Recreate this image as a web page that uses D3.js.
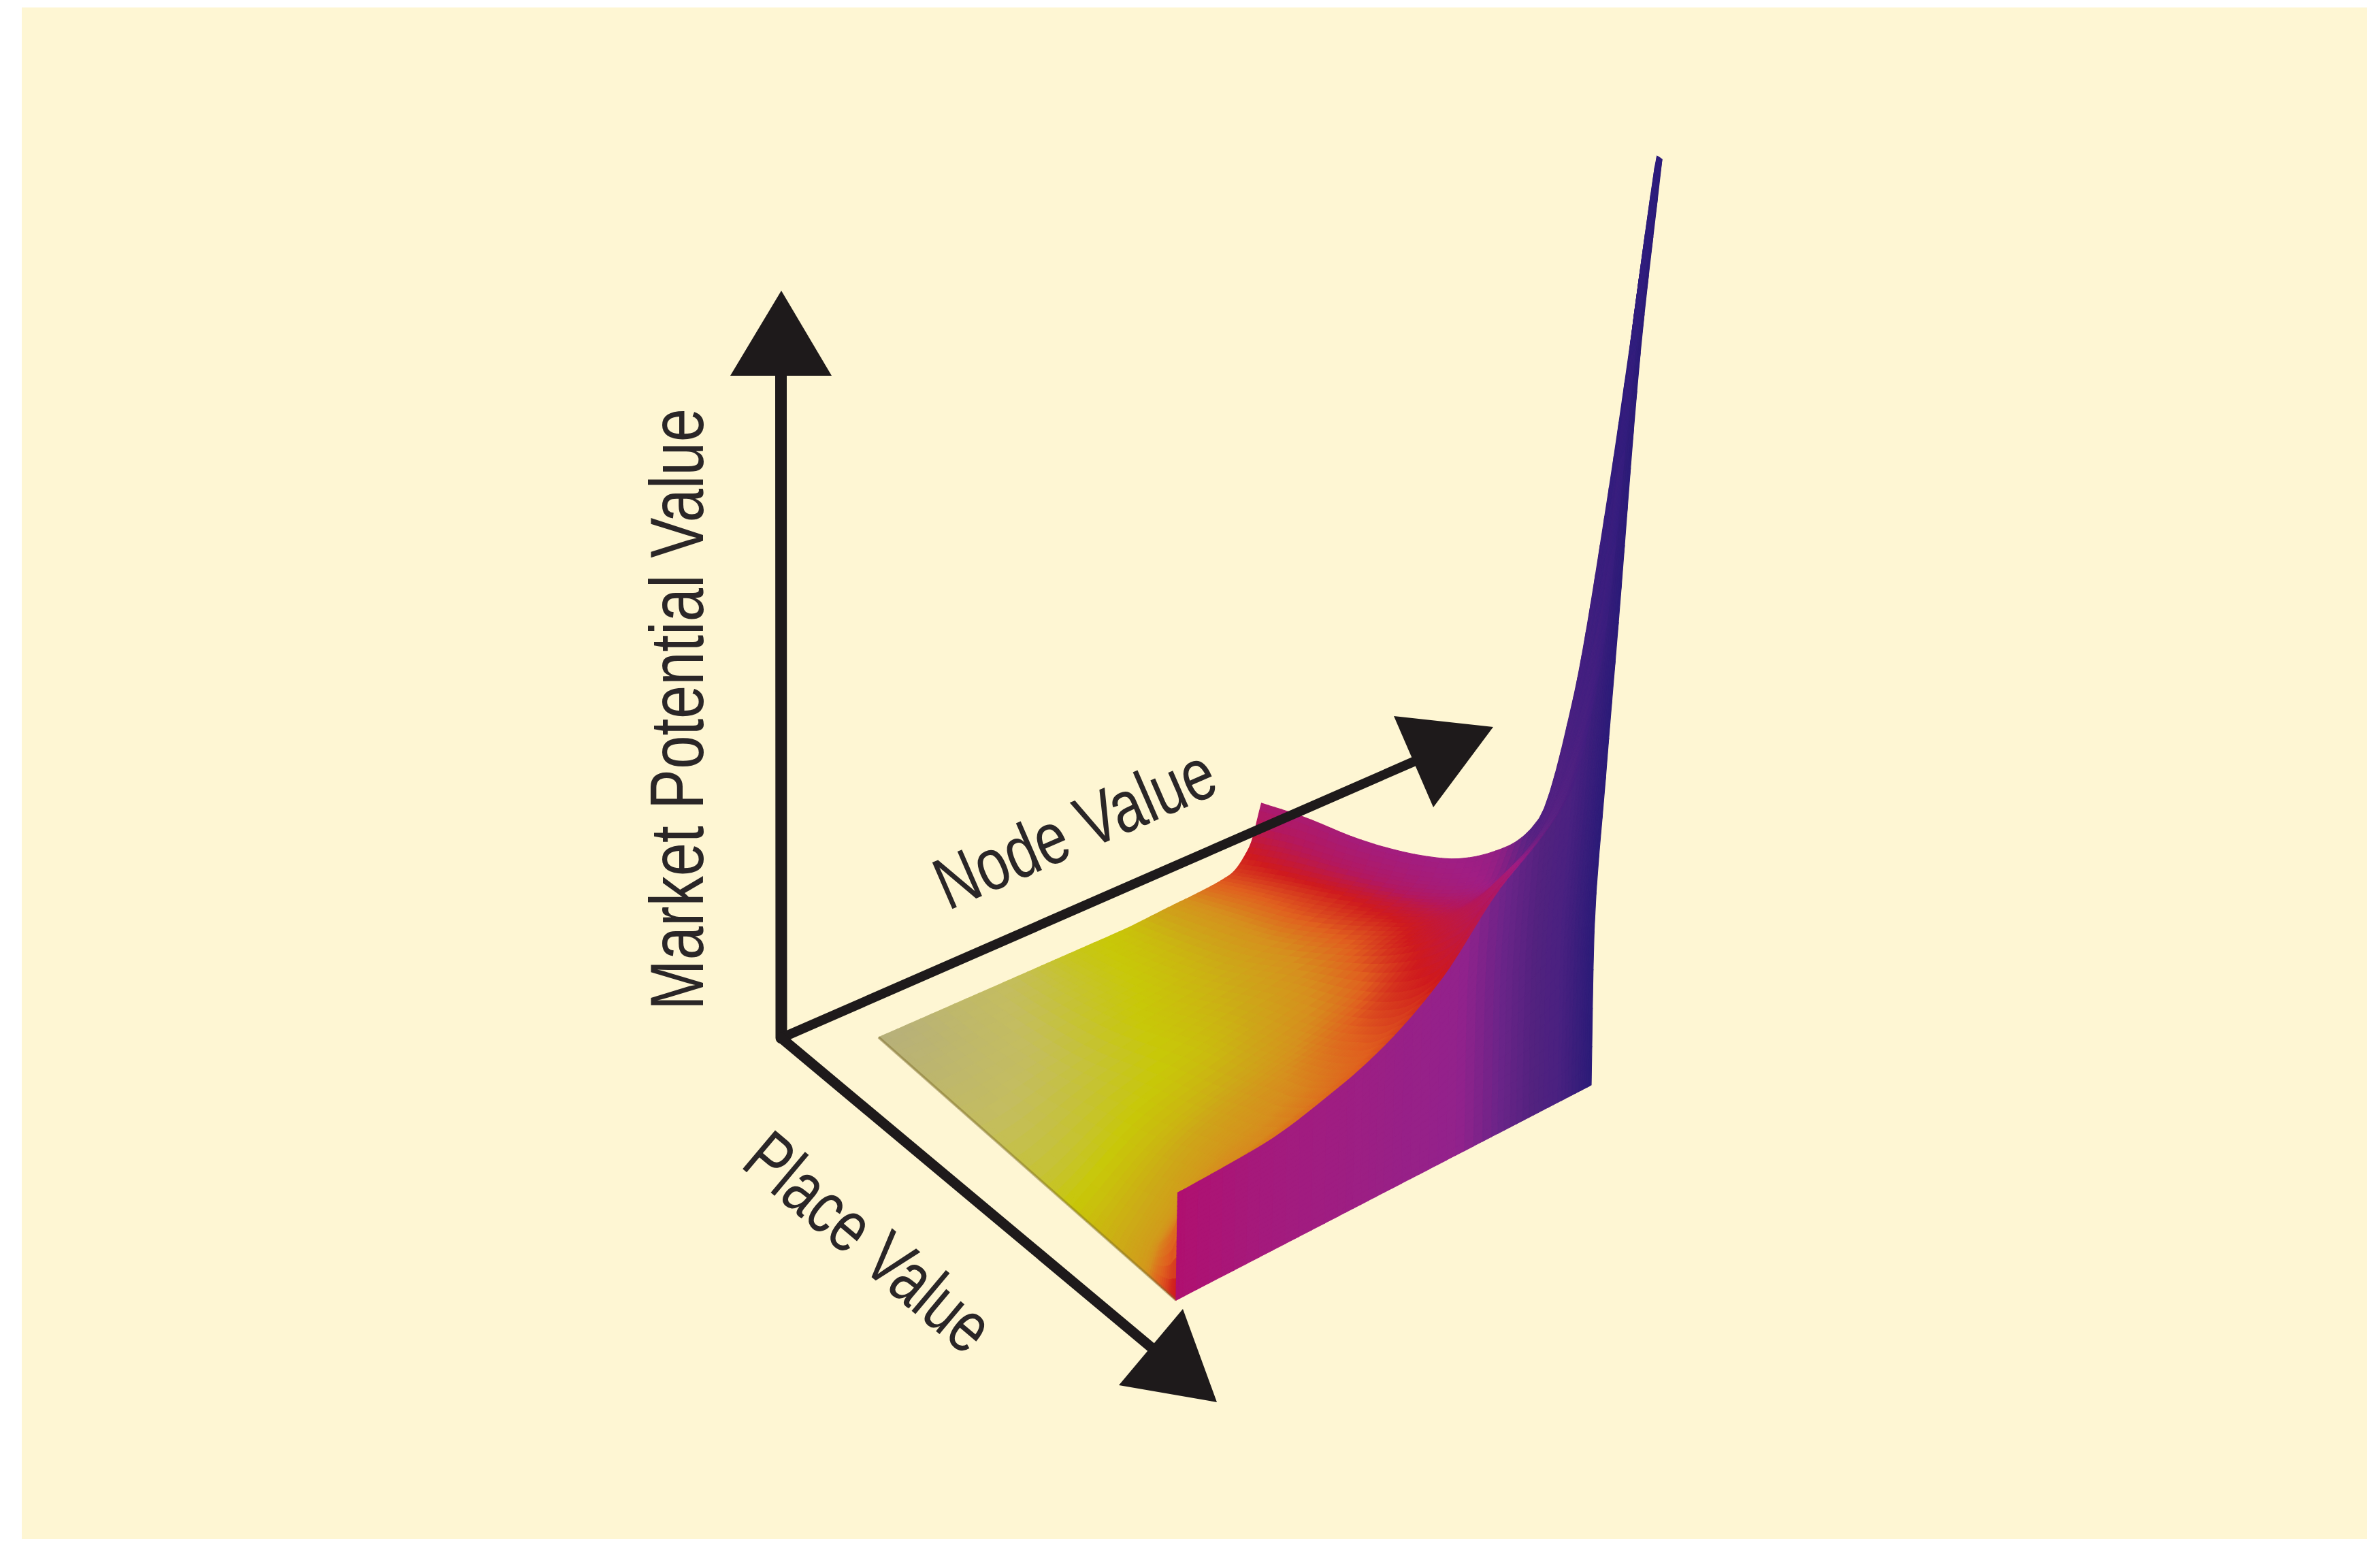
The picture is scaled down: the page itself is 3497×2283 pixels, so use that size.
<!DOCTYPE html>
<html>
<head>
<meta charset="utf-8">
<style>
  html, body { margin: 0; background: #fff; }
  svg { display: block; }
  text { font-family: "Liberation Sans Narrow", "Liberation Sans", sans-serif; fill: #2a2627; }
</style>
<script src="https://cdn.jsdelivr.net/npm/d3@7"></script>
</head>
<body>
<div id="chart"></div>
<script>
// Axis titles
const axisLabels = ['Market Potential Value', 'Node Value', 'Place Value'];

// Grid of the surface, 0..1 along each floor axis
const nodeLevels = [0, .02, .2, .39, .5, .63, .76, .85, .92, .97, 1];
const placeLevels = [0, .12, .3, .54, .7, .82, .89, .93, .97, .985, 1];

// Market potential (tip = 100), one row per place level
const heights = [
  [0, 0, 0, 0, 0, 0, .3, .5, .9, 3, 7.2],
  [0, 0, .3, .8, 1, 1.3, 1.8, 2.3, 3, 5, 8.6],
  [0, 0, 1.2, 2.5, 3, 3.6, 4.2, 5, 6, 7.5, 10.2],
  [0, .3, 4, 6, 7, 8, 9, 10, 10.5, 11.5, 13.8],
  [0, .8, 6, 8, 9, 10.5, 13, 14, 14.5, 15.5, 18.3],
  [0, 1.5, 8, 10, 11, 13, 17, 19, 20, 21, 24.6],
  [0, 2.5, 9, 11, 12.5, 15, 20, 23, 25, 28, 39.5],
  [0, 4, 9.8, 12, 13.5, 16.5, 22, 25, 28, 35, 56.7],
  [0, 7, 11, 13, 15, 18.5, 25, 28, 31, 42, 80],
  [0, 9.5, 11.5, 13.6, 15.6, 19.3, 26, 29, 32.5, 45, 100],
  [0, 11.6, 12, 14, 16, 20, 26.8, 30, 34, 48, 100]
];

// Colour band at each grid point (index into surfaceColors)
const bands = [
  [0, 0, .6, 1.2, 1.75, 2.1, 3.4, 4.6, 5.4, 6.2, 7.5],
  [.35, .35, .8, 1.45, 1.85, 2.4, 3.6, 4.7, 5.6, 6.6, 7.5],
  [.9, .9, 1.15, 1.85, 2.2, 2.85, 4, 5.1, 5.9, 7, 7.8],
  [1.5, 1.5, 1.8, 2.3, 2.9, 3.8, 4.9, 5.8, 6.6, 7.6, 8],
  [2.3, 2.3, 2.5, 3.1, 3.8, 4.6, 5.8, 6.4, 7.2, 8, 8.2],
  [3, 3, 3.3, 4, 4.6, 5.5, 6.3, 7, 8.2, 8.9, 9.3],
  [3.6, 3.5, 3.7, 4.3, 4.9, 5.7, 6.6, 7.4, 8.8, 9.2, 9.5],
  [4.8, 4.3, 4, 4.5, 5, 5.8, 6.8, 7.8, 9, 9.4, 9.7],
  [5.6, 4.6, 4.1, 4.7, 5.1, 5.9, 7, 8.2, 9.2, 9.5, 10],
  [6, 4.2, 4.3, 4.8, 5.2, 6, 7.2, 8.6, 9.3, 9.6, 10],
  [6.2, 4, 4.4, 4.9, 5.3, 6, 7.4, 9, 9.4, 9.7, 10]
];

const surfaceColors = ['#b7b07a', '#c4bd60', '#c8c808', '#cda818', '#d68f1e', '#e0601f',
  '#cf1a1e', '#b3185f', '#a01e84', '#5f2384', '#2b1c7c'];

// Front wall colour along the node axis
const wallStops = [0, .2, .45, .68, .78, .86, .92, 1];
const wallColors = ['#b01070', '#a51a7c', '#9c1f84', '#92228c', '#6a2488', '#52227f', '#4a2180', '#2b1b78'];

const width = 3497;
const height = 2283;
const origin = [1148, 1525];

// Floor corners of the surface on the page
const nodeBack = d3.scaleLinear().domain([0, 1]).range([[1291, 1524], [1852, 1278]]);
const nodeFront = d3.scaleLinear().domain([0, 1]).range([[1728, 1910], [2338, 1594]]);
const zScale = d3.scaleLinear().domain([0, 100]).range([0, -1360]);
// Vertical lines lean to the right the higher they go
const leanHeights = [0, 16, 34, 50, 79, 100];
const leanOffsets = [0, 4, 22, 40, 72, 104];

function project(n, p, z) {
  const a = nodeBack(n);
  const b = nodeFront(n);
  return [
    a[0] + (b[0] - a[0]) * p + smoothAt(leanHeights, leanOffsets, z),
    a[1] + (b[1] - a[1]) * p + zScale(z)
  ];
}

// Monotone cubic through the read values, only to draw smooth edges between them
function smoothAt(xs, ys, x) {
  const last = xs.length - 2;
  const i = Math.min(last, Math.max(0, d3.bisectRight(xs, x) - 1));
  const secant = k => (ys[k + 1] - ys[k]) / (xs[k + 1] - xs[k]);
  const slope = k => {
    if (k === 0) return secant(0);
    if (k > last) return secant(last);
    const s0 = secant(k - 1);
    const s1 = secant(k);
    return s0 * s1 <= 0 ? 0 : 2 * s0 * s1 / (s0 + s1);
  };
  const h = xs[i + 1] - xs[i];
  const t = (x - xs[i]) / h;
  const t2 = t * t;
  const t3 = t2 * t;
  return (2 * t3 - 3 * t2 + 1) * ys[i] + (t3 - 2 * t2 + t) * h * slope(i)
    + (-2 * t3 + 3 * t2) * ys[i + 1] + (t3 - t2) * h * slope(i + 1);
}

function refine(levels, steps) {
  const out = [];
  for (let i = 0; i < levels.length - 1; i++) {
    for (let s = 0; s < steps; s++) out.push(levels[i] + (levels[i + 1] - levels[i]) * s / steps);
  }
  out.push(levels[levels.length - 1]);
  return out;
}

function sample(matrix, n, p) {
  const col = nodeLevels.map((_, j) => smoothAt(placeLevels, matrix.map(r => r[j]), p));
  return smoothAt(nodeLevels, col, n);
}

const bandColor = d3.scaleLinear().domain(d3.range(surfaceColors.length)).range(surfaceColors).clamp(true);
const wallColor = d3.scaleLinear().domain(wallStops).range(wallColors);

const fineN = refine(nodeLevels, 6);
const fineP = refine(placeLevels, 6);

const svg = d3.select('#chart').append('svg')
  .attr('width', width)
  .attr('height', height);

// Panel
svg.append('rect')
  .attr('x', 32).attr('y', 11)
  .attr('width', 3446).attr('height', 2250)
  .attr('fill', '#fef6d3');

// Surface quads, back to front
const surfaceCells = [];
const zGrid = fineP.map(p => fineN.map(n => sample(heights, n, p)));
const bandGrid = fineP.map(p => fineN.map(n => sample(bands, n, p)));
for (let i = 0; i < fineP.length - 1; i++) {
  for (let j = fineN.length - 2; j >= 0; j--) {
    surfaceCells.push({
      pts: [
        project(fineN[j], fineP[i], zGrid[i][j]),
        project(fineN[j + 1], fineP[i], zGrid[i][j + 1]),
        project(fineN[j + 1], fineP[i + 1], zGrid[i + 1][j + 1]),
        project(fineN[j], fineP[i + 1], zGrid[i + 1][j])
      ],
      color: bandColor((bandGrid[i][j] + bandGrid[i][j + 1] + bandGrid[i + 1][j] + bandGrid[i + 1][j + 1]) / 4)
    });
  }
}

svg.append('g').selectAll('path')
  .data(surfaceCells)
  .join('path')
  .attr('d', d => 'M' + d.pts.join('L') + 'Z')
  .attr('fill', d => d.color)
  .attr('stroke', d => d.color)
  .attr('stroke-width', 1.2);

// Thin shaded rim along the lower left edge
svg.append('path')
  .attr('d', d3.line()(placeLevels.map(p => project(0, p, 0))))
  .attr('fill', 'none')
  .attr('stroke', '#7d6a2c')
  .attr('stroke-opacity', .45)
  .attr('stroke-width', 4);

// Front wall quads, its left edge stands straight up at node 0
const wallCells = [];
const wallRows = d3.range(0, 1.0001, 1 / 24);
const frontRow = heights[heights.length - 1];
const frontZ = fineN.map(n => n < nodeLevels[1] ? frontRow[1] : smoothAt(nodeLevels.slice(1), frontRow.slice(1), n));
for (let j = 0; j < fineN.length - 1; j++) {
  for (let r = 0; r < wallRows.length - 1; r++) {
    wallCells.push({
      pts: [
        project(fineN[j], 1, frontZ[j] * wallRows[r]),
        project(fineN[j + 1], 1, frontZ[j + 1] * wallRows[r]),
        project(fineN[j + 1], 1, frontZ[j + 1] * wallRows[r + 1]),
        project(fineN[j], 1, frontZ[j] * wallRows[r + 1])
      ],
      color: wallColor((fineN[j] + fineN[j + 1]) / 2)
    });
  }
}

svg.append('g').selectAll('path')
  .data(wallCells)
  .join('path')
  .attr('d', d => 'M' + d.pts.join('L') + 'Z')
  .attr('fill', d => d.color)
  .attr('stroke', d => d.color)
  .attr('stroke-width', 1.2);

// Axis arrows: head is tip plus two back corners
const arrows = [
  { head: [[1148, 427], [1073, 552], [1222, 552]], w: 17 },
  { head: [[2194, 1068], [2048, 1052], [2106, 1186]], w: 14 },
  { head: [[1788, 2060], [1738, 1923], [1644, 2035]], w: 15 }
];

const arrowG = svg.append('g');
for (const a of arrows) {
  const neck = [(a.head[1][0] + a.head[2][0]) / 2, (a.head[1][1] + a.head[2][1]) / 2];
  arrowG.append('line')
    .attr('x1', origin[0]).attr('y1', origin[1])
    .attr('x2', neck[0]).attr('y2', neck[1])
    .attr('stroke', '#1e1a1b')
    .attr('stroke-width', a.w)
    .attr('stroke-linecap', 'round');
  arrowG.append('path')
    .attr('d', 'M' + a.head.join('L') + 'Z')
    .attr('fill', '#1e1a1b');
}

// Axis titles sit along their arrows
const labelSpots = [
  { x: 1033, y: 1484, angle: -90, len: 884, size: 112 },
  { x: 1393, y: 1338, angle: -23.5, len: 438, size: 108 },
  { x: 1086, y: 1713, angle: 40, len: 436, size: 108 }
];

svg.append('g').selectAll('text')
  .data(axisLabels)
  .join('text')
  .attr('transform', (d, i) => `translate(${labelSpots[i].x},${labelSpots[i].y}) rotate(${labelSpots[i].angle})`)
  .attr('font-size', (d, i) => labelSpots[i].size)
  .attr('textLength', (d, i) => labelSpots[i].len)
  .attr('lengthAdjust', 'spacingAndGlyphs')
  .text(d => d);
</script>
</body>
</html>
